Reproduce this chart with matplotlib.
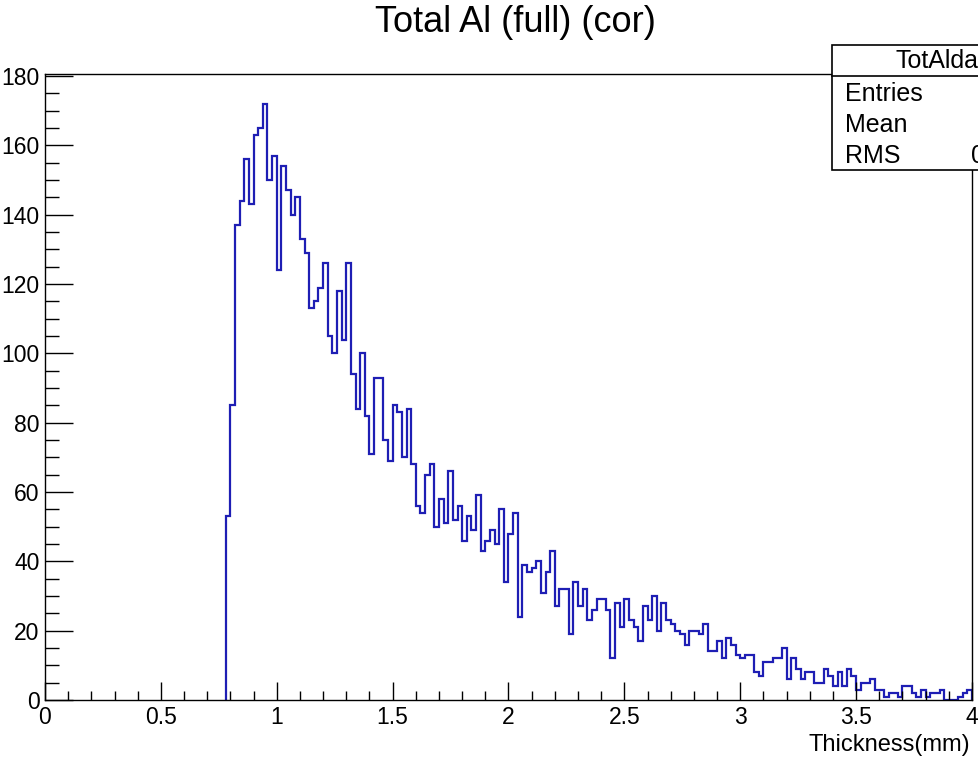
import numpy as np
import matplotlib.pyplot as plt
from matplotlib.patches import Rectangle

# histogram: 200 bins from 0 to 4 mm, first filled bin is #39 (0.78 mm)
x_min, x_max, n_bins = 0.0, 4.0, 200
first_bin = 39
counts = [
    53, 85, 137, 144, 156, 143, 163, 165, 172, 150,
    157, 124, 154, 147, 140, 145, 133, 129, 113, 115,
    119, 126, 105, 100, 118, 104, 126, 94, 84, 100,
    82, 71, 93, 93, 75, 69, 85, 83, 70, 84,
    68, 56, 54, 65, 68, 50, 58, 51, 66, 52,
    56, 46, 53, 49, 59, 43, 46, 49, 45, 55,
    34, 48, 54, 24, 39, 37, 38, 40, 31, 37,
    43, 27, 32, 32, 19, 34, 27, 32, 23, 26,
    29, 29, 26, 12, 28, 21, 29, 23, 21, 17,
    27, 23, 30, 20, 28, 23, 22, 20, 19, 16,
    20, 20, 19, 22, 14, 14, 17, 12, 18, 16,
    13, 12, 13, 13, 8, 7, 11, 11, 12, 12,
    15, 6, 12, 9, 6, 8, 8, 5, 5, 9,
    7, 4, 8, 4, 9, 7, 3, 5, 5, 6,
    3, 3, 1, 2, 2, 1, 4, 4, 2, 1,
    3, 1, 2, 2, 3, 0, 0, 0, 1, 2,
    3,
]

title = "Total Al (full) (cor)"
x_label = "Thickness(mm)"
stats_name = "TotAldata"
stats_rows = ["Entries", "Mean", "RMS"]
stats_vals = ["", "", "0.5"]

W, H = 979, 760
fig = plt.figure(figsize=(W / 100, H / 100), dpi=100)
plt.rcParams['font.family'] = ['Liberation Sans', 'DejaVu Sans']

ax = fig.add_axes([45 / W, 60 / H, 927 / W, 626 / H])

edges = np.linspace(x_min, x_max, n_bins + 1)
ax.stairs(counts, edges[first_bin:], baseline=0, color='#1e1eb4', lw=1.6, zorder=1)

ax.set_xlim(x_min, x_max)
ax.set_ylim(0, 180.6)

ax.set_xticks(np.arange(0, 4.01, 0.5))
ax.set_xticks(np.arange(0, 4.01, 0.1), minor=True)
ax.set_xticklabels(['0', '0.5', '1', '1.5', '2', '2.5', '3', '3.5', '4'])
ax.set_yticks(np.arange(0, 181, 20))
ax.set_yticks(np.arange(0, 181, 5), minor=True)

ax.tick_params(axis='x', which='major', direction='in', length=13, width=1, labelsize=16.5, pad=4)
ax.tick_params(axis='x', which='minor', direction='in', length=6.5, width=1)
ax.tick_params(axis='y', which='major', direction='in', length=20, width=1, labelsize=16.5, pad=4)
ax.tick_params(axis='y', which='minor', direction='in', length=10, width=1)
for s in ax.spines.values():
    s.set_linewidth(1.0)

fig.text(515 / W, 1 - 22 / H, title, ha='center', va='center', fontsize=26)
fig.text(970 / W, 1 - 745 / H, x_label, ha='right', va='center', fontsize=17)

# stats box (runs off the right edge like in the original canvas)
bx0, by_top, by_bot = 832, 45, 170
box = Rectangle((bx0 / W, 1 - by_bot / H), (1010 - bx0) / W, (by_bot - by_top) / H,
                transform=fig.transFigure, facecolor='white', edgecolor='black',
                lw=1.2, zorder=5, clip_on=False)
fig.patches.append(box)
fig.add_artist(plt.Line2D([bx0 / W, 1.0], [1 - 76 / H, 1 - 76 / H],
                          transform=fig.transFigure, color='black', lw=1.2, zorder=6))
fig.text(896 / W, 1 - 61 / H, stats_name, ha='left', va='center', fontsize=18, zorder=7)
for i, (name, val) in enumerate(zip(stats_rows, stats_vals)):
    yy = 1 - (94 + 31 * i) / H
    fig.text(845 / W, yy, name, ha='left', va='center', fontsize=18, zorder=7)
    fig.text(971 / W, yy, val, ha='left', va='center', fontsize=18, zorder=7)

fig.savefig('out.png', dpi=100)
